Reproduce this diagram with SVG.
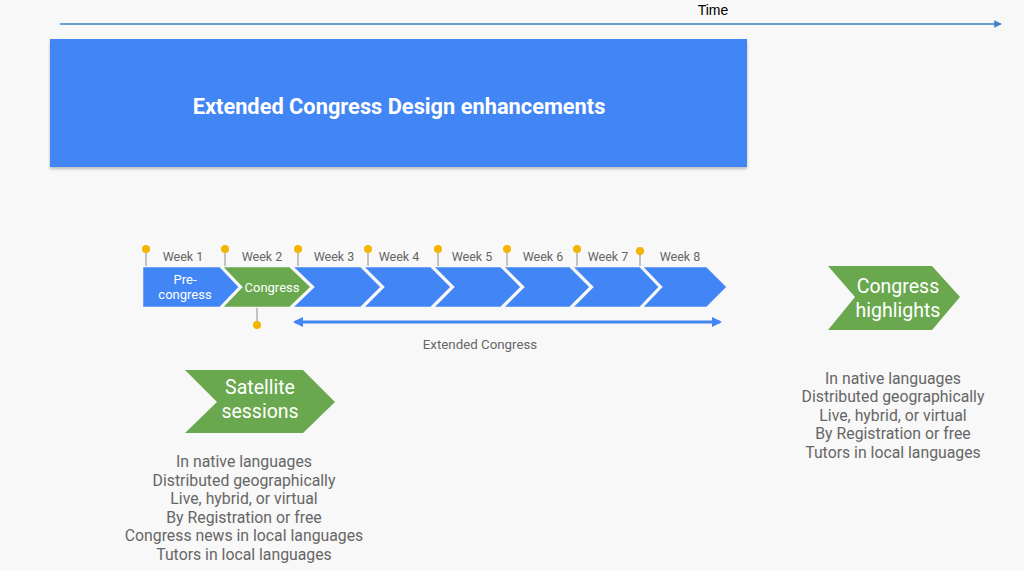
<svg xmlns="http://www.w3.org/2000/svg" width="1024" height="571" viewBox="0 0 1024 571">
  <defs>
    <style>
      .blue { fill: #4285F4; }
      .green { fill: #6AA84F; }
      .chev { stroke: #F8F8F8; stroke-width: 2.5; stroke-linejoin: miter; }
      .week { font-family: Roboto, "Liberation Sans", sans-serif; font-size: 12.5px; fill: #666666; text-anchor: middle; }
      .inner { font-family: Roboto, "Liberation Sans", sans-serif; font-size: 13px; fill: #FFFFFF; text-anchor: middle; }
      .big { font-family: Roboto, "Liberation Sans", sans-serif; font-size: 19.5px; fill: #FFFFFF; text-anchor: middle; }
      .list { font-family: Roboto, "Liberation Sans", sans-serif; font-size: 15.8px; fill: #666666; text-anchor: middle; }
      .stem { stroke: #9E9E9E; stroke-width: 1.2; }
      .pin { fill: #F4B400; }
    </style>
    <marker id="tArrow" viewBox="0 0 10 10" refX="9" refY="5" markerWidth="5" markerHeight="5" orient="auto">
      <path d="M0,0 L10,5 L0,10 z" fill="#3D85C6"/>
    </marker>
    <marker id="bArrow" viewBox="0 0 10 10" refX="8" refY="5" markerWidth="3.5" markerHeight="3.5" orient="auto-start-reverse">
      <path d="M0,0 L10,5 L0,10 z" fill="#4285F4"/>
    </marker>
    <filter id="shadow" x="-5%" y="-5%" width="110%" height="120%">
      <feDropShadow dx="0" dy="2" stdDeviation="1.5" flood-color="#000" flood-opacity="0.25"/>
    </filter>
  </defs>

  <rect x="0" y="0" width="1024" height="571" fill="#F8F8F8"/>

  <g id="connectors">
    <line x1="60" y1="24" x2="1001" y2="24" stroke="#3D85C6" stroke-width="1.5" marker-end="url(#tArrow)"/>
    <line x1="295" y1="322" x2="720" y2="322" stroke="#4285F4" stroke-width="3" marker-start="url(#bArrow)" marker-end="url(#bArrow)"/>
  </g>

  <g id="time-label">
    <text x="713" y="15" font-family="Liberation Sans, Arial, sans-serif" font-size="14" fill="#000" text-anchor="middle">Time</text>
  </g>

  <g id="title-box">
    <rect x="50" y="39" width="697" height="128" class="blue" filter="url(#shadow)"/>
    <text x="399" y="114" font-family="Roboto, 'Liberation Sans', sans-serif" font-size="21.8" font-weight="bold" fill="#FFFFFF" text-anchor="middle">Extended Congress Design enhancements</text>
  </g>

  <g id="week1">
    <polygon class="blue chev" points="142,266 220,266 240,287 220,308 142,308"/>
    <text class="inner" x="185" y="284">Pre-</text>
    <text class="inner" x="185" y="299">congress</text>
  </g>
  <g id="week2">
    <polygon class="green chev" points="221,266 290,266 312,287 290,308 221,308 241,287"/>
    <text class="inner" x="272" y="292">Congress</text>
  </g>
  <g id="week3">
    <polygon class="blue chev" points="291,266 361,266 382,287 361,308 291,308 313,287"/>
  </g>
  <g id="week4">
    <polygon class="blue chev" points="362,266 431,266 452,287 431,308 362,308 383,287"/>
  </g>
  <g id="week5">
    <polygon class="blue chev" points="432,266 501,266 522,287 501,308 432,308 453,287"/>
  </g>
  <g id="week6">
    <polygon class="blue chev" points="502,266 570,266 591,287 570,308 502,308 523,287"/>
  </g>
  <g id="week7">
    <polygon class="blue chev" points="571,266 640,266 660,287 640,308 571,308 592,287"/>
  </g>
  <g id="week8">
    <polygon class="blue chev" points="641,266 707,266 728,287 707,308 641,308 661,287"/>
  </g>

  <g id="pins">
    <line class="stem" x1="146" y1="250" x2="146" y2="266"/><circle class="pin" cx="146" cy="249" r="4"/>
    <line class="stem" x1="225" y1="250" x2="225" y2="266"/><circle class="pin" cx="225" cy="249" r="4"/>
    <line class="stem" x1="298" y1="250" x2="298" y2="266"/><circle class="pin" cx="298" cy="249" r="4"/>
    <line class="stem" x1="368" y1="250" x2="368" y2="266"/><circle class="pin" cx="368" cy="249" r="4"/>
    <line class="stem" x1="438" y1="250" x2="438" y2="266"/><circle class="pin" cx="438" cy="249" r="4"/>
    <line class="stem" x1="507" y1="250" x2="507" y2="266"/><circle class="pin" cx="507" cy="249" r="4"/>
    <line class="stem" x1="577" y1="250" x2="577" y2="266"/><circle class="pin" cx="577" cy="249" r="4"/>
    <line class="stem" x1="640" y1="251" x2="640" y2="266"/><circle class="pin" cx="640" cy="251" r="4"/>
    <line class="stem" x1="257" y1="308" x2="257" y2="323"/><circle class="pin" cx="257" cy="325" r="4"/>
  </g>

  <g id="week-labels">
    <text class="week" x="183" y="261">Week 1</text>
    <text class="week" x="262" y="261">Week 2</text>
    <text class="week" x="334" y="261">Week 3</text>
    <text class="week" x="399" y="261">Week 4</text>
    <text class="week" x="472" y="261">Week 5</text>
    <text class="week" x="543" y="261">Week 6</text>
    <text class="week" x="608" y="261">Week 7</text>
    <text class="week" x="680" y="261">Week 8</text>
  </g>

  <g id="extended-label">
    <text class="week" x="480" y="349" style="font-size:13.3px">Extended Congress</text>
  </g>

  <g id="satellite">
    <polygon class="green" points="185,370 303,370 335,402 303,433 185,433 217,402"/>
    <text class="big" x="260" y="394">Satellite</text>
    <text class="big" x="260" y="418">sessions</text>
  </g>
  <g id="satellite-list">
    <text class="list" x="244" y="467">In native languages</text>
    <text class="list" x="244" y="486">Distributed geographically</text>
    <text class="list" x="244" y="504">Live, hybrid, or virtual</text>
    <text class="list" x="244" y="523">By Registration or free</text>
    <text class="list" x="244" y="541">Congress news in local languages</text>
    <text class="list" x="244" y="560">Tutors in local languages</text>
  </g>

  <g id="highlights">
    <polygon class="green" points="828,266 932,266 960,297 932,330 828,330 855,297"/>
    <text class="big" x="898" y="293">Congress</text>
    <text class="big" x="898" y="317">highlights</text>
  </g>
  <g id="highlights-list">
    <text class="list" x="893" y="384">In native languages</text>
    <text class="list" x="893" y="402">Distributed geographically</text>
    <text class="list" x="893" y="421">Live, hybrid, or virtual</text>
    <text class="list" x="893" y="439">By Registration or free</text>
    <text class="list" x="893" y="458">Tutors in local languages</text>
  </g>
</svg>
